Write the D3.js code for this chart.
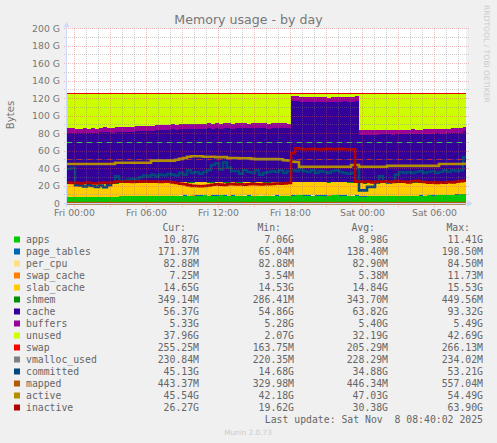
<!DOCTYPE html>
<html>
<head>
<meta charset="utf-8">
<script src="https://cdn.jsdelivr.net/npm/d3@7"></script>
<style>
  html, body { margin: 0; padding: 0; background: #f0f0f0; }
  svg { display: block; }
  text { font-family: "DejaVu Sans", sans-serif; }
  .mono { font-family: "DejaVu Sans Mono", monospace; font-size: 9.8px; fill: #666; }
</style>
</head>
<body>
<svg id="chart" width="497" height="443"></svg>
<script>
// samples are 20 minutes apart, all values in G
const apps = [7.4,7.3,7.2,7.2,7.3,7.2,7.3,7.2,7.3,7.4,
  7.3,7.4,7.6,8.4,8.5,8.2,8.3,8.6,8.4,8.7,
  8.4,8.6,8.5,8.8,8.7,8.5,8.6,8.8,9.0,9.1,
  8.8,8.9,9.1,9.0,9.2,8.9,9.0,9.1,9.3,9.0,
  8.9,9.1,8.9,8.8,9.0,9.1,8.8,8.9,9.0,8.8,
  8.9,9.0,9.1,8.9,8.7,8.8,9.0,9.2,9.3,9.1,
  9.0,8.9,9.0,9.1,9.0,8.9,9.2,9.3,9.1,9.0,
  8.8,9.0,9.1,8.0,7.9,8.1,8.3,8.4,8.5,8.3,
  8.4,8.2,8.3,8.5,8.6,8.7,8.9,8.8,9.0,8.9,
  9.3,9.1,9.4,9.2,9.5,9.6,9.9,10.2,10.6,10.9];
const cache = [57.9,58.5,57.6,57.6,58.0,57.6,58.0,57.6,58.5,58.9,
  58.5,57.9,59.2,58.4,57.8,58.6,58.0,59.2,59.4,58.6,
  59.4,59.2,59.8,60.0,59.6,60.3,60.7,60.0,60.8,60.2,
  61.0,60.9,61.2,60.8,61.1,61.9,61.3,61.7,61.0,61.8,
  62.4,61.2,61.9,62.5,61.8,61.2,62.0,61.9,62.3,62.0,
  61.4,61.8,61.7,62.4,62.1,61.5,92.8,92.1,91.5,91.7,
  91.3,91.4,91.8,91.7,91.3,91.4,91.6,91.5,91.7,92.3,
  92.5,92.3,92.7,54.9,54.9,54.9,54.9,54.9,55.2,55.4,
  55.3,55.1,55.5,55.0,55.1,55.1,55.4,55.0,54.9,55.4,
  54.9,54.9,55.4,55.1,54.9,55.2,55.4,55.0,54.9,56.4];
const unused = [39.6,39.1,40.1,40.1,39.6,40.1,39.6,40.1,39.1,38.6,
  39.1,39.6,38.1,38.1,38.6,38.1,38.6,37.1,37.1,37.6,
  37.1,37.1,36.6,36.1,36.6,36.1,35.6,36.1,35.1,35.6,
  35.1,35.1,34.6,35.1,34.6,34.1,34.6,34.1,34.6,34.1,
  33.6,34.6,34.1,33.6,34.1,34.6,34.1,34.1,33.6,34.1,
  34.6,34.1,34.1,33.6,34.1,34.6,3.1,3.6,4.1,4.1,
  4.6,4.6,4.1,4.1,4.6,4.6,4.1,4.1,4.1,3.6,
  3.6,3.6,3.1,42.1,42.6,42.4,42.2,42.1,41.7,41.7,
  41.5,41.6,41.1,41.6,41.6,41.1,40.6,41.1,41.1,40.6,
  41.1,41.1,40.1,40.6,40.6,40.1,39.6,40.1,39.6,37.9];
const committed = [39.5,40.5,21,20.5,19.5,21,20,19,20.5,18.5,
  21,24,31,26,26,27,28,27,30,32,
  31,33,31,33,32,34,33,32,35,33,
  38,35,36,34,36,38,44,46,39,47,
  41,37,37,34,38,36,35,38,33,35,
  36,37,36,38,35,37,38,37,39,37,
  36,38,35,37,36,35,37,38,36,35,
  34,35,40,15,15,19,19,24,31,25,
  24,25,33,36,35,36,35,36,37,35,
  36,37,35,36,38,36,38,37,38,53];
const active = [45.1,45.1,45.1,45.1,45.1,45.1,45.1,45.1,45.1,45.1,
  45.1,45.1,46.5,46.5,46.5,46.5,46.5,46.5,46.5,46.5,
  46.5,49,49,49,49,49,49,50,51,52,
  53.5,54,54,54,53.5,53.5,53.5,53,53,53,
  52,52,52,51.8,51.8,51.8,51,50.7,50.7,50.7,
  50.7,50.7,50.7,50.5,49.5,49.2,47.8,47.5,42,42,
  42,42,42,42,42,42,42,42,42,42,
  42,44,44,42,42,42,42,42,42,42,
  43,43,43,43,43,43,43,43,43,43,
  43,43,43,45.1,45.1,45.1,45.1,45.1,45.1,45.5];
const inactive = [24,23.5,23.8,23,23.5,24,23.2,22.8,23.8,24,
  23.5,24,25,24.8,25.2,25,24.5,25.5,25,25.4,
  24.8,25,25.2,24.6,25,24.8,24.2,23.5,22.5,22,
  21,20.2,20,19.8,20,20.5,21.5,22,21.6,21.2,
  22,22.2,21.8,22,21.6,22,22.4,22,21.8,22.2,
  22,22.4,22.8,22.6,23,23.4,57.5,63,62.5,62,
  62,62.4,62,61.8,62.2,62.5,62,62.2,62.4,62,
  61.8,62,25,25,24.5,25,24.2,25,24.8,25.5,
  25,24.6,25.6,25.2,25,24.2,25.4,26,25,24.6,
  23.8,24.2,23.6,24,23.8,24.6,24,25,25.6,26.2];

// the small ones are sub pixel, one value per 100 minutes is plenty
const pageTables = [.17,.15,.14,.13,.12,.14,.16,.15,.13,.12,.14,.15,.17,.16,.14,.12,.13,.15,.16,.17];
const perCpu = [.083,.083,.083,.083,.083,.083,.083,.083,.083,.084,.083,.083,.083,.083,.083,.083,.083,.083,.083,.083];
const swapCache = [.005,.004,.006,.005,.005,.006,.007,.005,.004,.005,.006,.005,.005,.004,.005,.006,.007,.006,.007,.007];
const slabCache = [14.7,14.8,14.9,14.8,14.9,15.0,14.8,14.7,14.8,14.9,14.8,15.1,14.9,14.8,14.7,14.6,14.8,14.7,14.7,14.65];
const shmem = [.34,.34,.35,.34,.33,.34,.35,.36,.34,.34,.33,.34,.35,.34,.34,.35,.34,.34,.35,.35];
const buffers = [5.4,5.4,5.38,5.4,5.42,5.44,5.42,5.4,5.38,5.4,5.42,5.4,5.44,5.42,5.4,5.36,5.34,5.36,5.34,5.33];
const swap = [.2,.21,.2,.19,.2,.21,.2,.2,.21,.2,.21,.2,.19,.2,.21,.2,.22,.23,.24,.25];
const vmallocUsed = [.23,.23,.23,.23,.23,.23,.23,.23,.23,.23,.23,.23,.23,.23,.23,.23,.23,.23,.23,.23];
const mapped = [.44,.45,.44,.43,.44,.45,.46,.44,.45,.44,.43,.44,.45,.44,.45,.44,.44,.45,.44,.44];

const names = ['apps','page_tables','per_cpu','swap_cache','slab_cache','shmem','cache','buffers','unused','swap','vmalloc_used','committed','mapped','active','inactive'];
const colors = ['#00cc00','#0066b3','#ffe080','#ff8000','#ffcc00','#008f00','#330099','#990099','#ccff00','#ff0000','#808080','#00487d','#b35a00','#b38f00','#b30000'];
const curLabels = ['10.87G','171.37M','82.88M','7.25M','14.65G','349.14M','56.37G','5.33G','37.96G','255.25M','230.84M','45.13G','443.37M','45.54G','26.27G'];
const minLabels = ['7.06G','65.04M','82.88M','3.54M','14.53G','286.41M','54.86G','5.28G','2.07G','163.75M','220.35M','14.68G','329.98M','42.18G','19.62G'];
const avgLabels = ['8.98G','138.40M','82.90M','5.38M','14.84G','343.70M','63.82G','5.40G','32.19G','205.29M','228.29M','34.88G','446.34M','47.03G','30.38G'];
const maxLabels = ['11.41G','198.50M','84.50M','11.73M','15.53G','449.56M','93.32G','5.49G','42.69G','266.13M','234.02M','53.21G','557.04M','54.49G','63.90G'];
const yTicks = [0,20,40,60,80,100,120,140,160,180,200];
const warnLevel = 70, critLevel = 50;

const stackKeys = ['apps','page_tables','per_cpu','swap_cache','slab_cache','shmem','cache','buffers','unused','swap'];
const t0 = new Date(2025, 10, 6, 23, 25);
const tEnd = new Date(2025, 10, 8, 8, 40);
const step = 20 * 60 * 1000;

const rows = apps.map((v, i) => {
  const k = Math.floor(i / 5);
  return {
    date: new Date(+t0 + i * step),
    apps: v, page_tables: pageTables[k], per_cpu: perCpu[k], swap_cache: swapCache[k],
    slab_cache: slabCache[k], shmem: shmem[k], cache: cache[i], buffers: buffers[k],
    unused: unused[i], swap: swap[k], vmalloc_used: vmallocUsed[k],
    committed: committed[i], mapped: mapped[k], active: active[i], inactive: inactive[i]
  };
});
rows.push(Object.assign({}, rows[rows.length - 1], { date: tEnd })); // hold last sample to the edge

const svg = d3.select('#chart');
const x = d3.scaleTime().domain([t0, tEnd]).range([67, 466]);
const y = d3.scaleLinear().domain([0, 200]).range([203.5, 28.5]);
const color = d3.scaleOrdinal().domain(names).range(colors);

svg.append('rect').attr('x', 67).attr('y', 28.5).attr('width', 399).attr('height', 175).attr('fill', '#fff');

// stacked areas
const layers = d3.stack().keys(stackKeys)(rows);
const area = d3.area().curve(d3.curveStepAfter)
  .x(d => x(d.data.date)).y0(d => y(d[0])).y1(d => y(d[1]));
svg.append('g').selectAll('path').data(layers).join('path')
  .attr('d', area).attr('fill', d => color(d.key)).attr('shape-rendering', 'crispEdges');

// swap sits on top of everything, thin but visible as a red line
svg.append('path').datum(layers[layers.length - 1])
  .attr('d', d3.line().curve(d3.curveStepAfter).x(d => x(d.data.date)).y(d => y(d[1])))
  .attr('fill', 'none').attr('stroke', '#e80000').attr('stroke-width', 1).attr('shape-rendering', 'crispEdges');

// warning / critical rules, snapped so they stay bright
[[warnLevel, '#00ee00'], [critLevel, '#ff0000']].forEach(([lvl, c]) => {
  const py = Math.floor(y(lvl)) + 0.5;
  svg.append('line').attr('x1', 67).attr('x2', 466).attr('y1', py).attr('y2', py)
    .attr('stroke', c).attr('stroke-dasharray', '5 5');
});

// line series
const lineSeries = ['vmalloc_used', 'committed', 'mapped', 'active', 'inactive'];
svg.append('g').selectAll('path').data(lineSeries).join('path')
  .attr('fill', 'none').attr('stroke', d => color(d)).attr('stroke-width', 2.6)
  .attr('d', k => d3.line().curve(d3.curveStepAfter).x(d => x(d.date)).y(d => y(d[k]))(rows));

// grid goes over the data like rrdtool does it
const grid = svg.append('g').attr('fill', 'none').attr('stroke-dasharray', '1 1');
const hours = d3.timeHour.range(t0, tEnd);
hours.forEach(h => {
  const major = h.getHours() % 3 === 0;
  const px = Math.round(x(h)) + 0.5;
  grid.append('line').attr('x1', px).attr('x2', px).attr('y1', 28).attr('y2', major ? 207 : 205)
    .attr('stroke', major ? 'rgba(215,80,80,.38)' : 'rgba(130,130,130,.38)');
});
d3.range(0, 201, 10).forEach(v => {
  const major = v % 20 === 0;
  const py = Math.floor(y(v)) + 0.5;
  grid.append('line').attr('x1', 64).attr('x2', 469).attr('y1', py).attr('y2', py)
    .attr('stroke', major ? 'rgba(215,80,80,.38)' : 'rgba(130,130,130,.38)');
});

// axes
const xAxis = d3.axisBottom(x)
  .tickValues(d3.timeHour.range(t0, tEnd).filter(h => h.getHours() % 6 === 0))
  .tickFormat(d3.timeFormat('%a %H:%M')).tickSize(0).tickPadding(6);
const yAxis = d3.axisLeft(y).tickValues(yTicks)
  .tickFormat(d => d === 0 ? '0' : d + ' G').tickSize(0).tickPadding(7);
const gx = svg.append('g').attr('transform', 'translate(0,203.5)').call(xAxis);
const gy = svg.append('g').attr('transform', 'translate(67,0)').call(yAxis);
[gx, gy].forEach(g => {
  g.select('.domain').remove();
  g.selectAll('text').attr('fill', '#777').attr('font-size', 9.3);
});

// axis lines and arrows
const axisCol = '#d0d8f8';
svg.append('line').attr('x1', 66.5).attr('x2', 66.5).attr('y1', 24).attr('y2', 207).attr('stroke', axisCol);
svg.append('line').attr('x1', 64).attr('x2', 470).attr('y1', 203.5).attr('y2', 203.5).attr('stroke', axisCol);
svg.append('path').attr('d', d3.line()([[63.5, 27], [69.5, 27], [66.5, 22]])).attr('fill', axisCol);
svg.append('path').attr('d', d3.line()([[467, 200], [467, 207], [473, 203.5]])).attr('fill', axisCol);

// titles
svg.append('text').attr('x', 248.5).attr('y', 24).attr('text-anchor', 'middle')
  .attr('font-size', 12.6).attr('fill', '#777').text('Memory usage - by day');
svg.append('text').attr('transform', 'translate(14,115) rotate(-90)').attr('text-anchor', 'middle')
  .attr('font-size', 10.2).attr('fill', '#777').text('Bytes');
svg.append('text').attr('transform', 'translate(484,5) rotate(90)')
  .attr('font-size', 7.6).attr('fill', '#ccc').text('RRDTOOL / TOBI OETIKER');

// legend
const colX = [199, 294, 388, 483];
const headers = ['Cur:', 'Min:', 'Avg:', 'Max:'];
const headX = [186, 281, 375, 470];
const legend = svg.append('g');
headers.forEach((h, i) => {
  legend.append('text').attr('class', 'mono').attr('x', headX[i]).attr('y', 231).attr('text-anchor', 'end').text(h);
});
names.forEach((n, i) => {
  const ly = 243 + i * 12;
  legend.append('rect').attr('x', 14).attr('y', ly - 6.5).attr('width', 6).attr('height', 6).attr('fill', color(n));
  legend.append('text').attr('class', 'mono').attr('x', 26).attr('y', ly).attr('xml:space', 'preserve').text(n);
  [curLabels, minLabels, avgLabels, maxLabels].forEach((col, c) => {
    legend.append('text').attr('class', 'mono').attr('x', colX[c]).attr('y', ly).attr('text-anchor', 'end').text(col[i]);
  });
});
legend.append('text').attr('class', 'mono').attr('x', 483).attr('y', 423).attr('text-anchor', 'end')
  .attr('xml:space', 'preserve').text('Last update: Sat Nov  8 08:40:02 2025');
svg.append('text').attr('x', 248).attr('y', 435).attr('text-anchor', 'middle')
  .attr('font-size', 7.3).attr('fill', '#ccc').text('Munin 2.0.73');
</script>
</body>
</html>
